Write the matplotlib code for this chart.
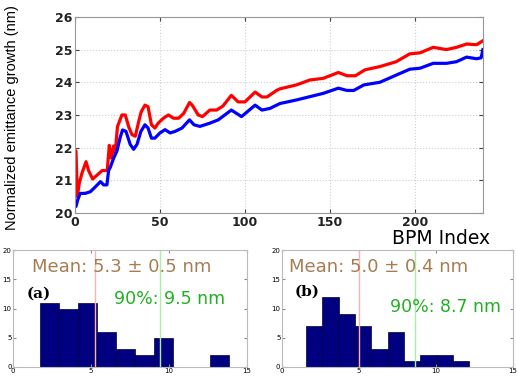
import matplotlib.pyplot as plt
import numpy as np

# main plot: emittance growth vs BPM index
red_x = [0, 0.6, 1.4, 2.5, 4, 6.5, 8, 10.4, 13, 16, 19, 20.2, 21.4, 22.7, 23.7, 25, 27.6, 29.6,
         31.6, 33.5, 35.5, 37.5, 39, 41.2, 43, 45, 47, 49, 52, 55, 58, 61, 64, 67.4, 69, 72.5,
         75, 79.4, 83.3, 87, 92, 96, 100, 106, 110, 113, 118.6, 120.6, 130.4, 138.2, 146, 155,
         160, 165, 170.6, 179.4, 189, 197, 203, 210.8, 218.6, 224.5, 230.4, 236.3, 240]
red_y = [21.9, 21.9, 20.5, 20.9, 21.2, 21.57, 21.3, 21.04, 21.16, 21.3, 21.3, 22.07, 21.68, 22.05,
         21.85, 22.64, 23.0, 23.0, 22.64, 22.4, 22.35, 22.8, 23.1, 23.3, 23.25, 22.7, 22.6, 22.75,
         22.9, 23.0, 22.9, 22.9, 23.05, 23.38, 23.3, 23.0, 22.95, 23.15, 23.15, 23.27, 23.6, 23.4,
         23.4, 23.7, 23.55, 23.55, 23.75, 23.8, 23.92, 24.07, 24.12, 24.3, 24.2, 24.2, 24.38,
         24.48, 24.63, 24.87, 24.9, 25.07, 25.0, 25.07, 25.17, 25.15, 25.27]
blue_x = [0, 0.6, 1.6, 3.1, 6, 9, 12, 15, 16.9, 18.8, 19.8, 20.8, 22.7, 24.7, 26.7, 28, 30, 32.5,
          34.5, 36.5, 38.8, 41.2, 43, 45, 47, 50, 53, 56, 59, 63, 67.4, 70, 73.5, 79.4, 84.3,
          92, 98, 106, 110, 114.7, 120.6, 130.4, 138.2, 146, 155, 160, 164, 170, 179.4, 189,
          197, 203, 210.8, 218.6, 224.5, 230.4, 236.3, 239, 240]
blue_y = [20.2, 20.2, 20.4, 20.6, 20.6, 20.65, 20.8, 20.96, 20.86, 20.86, 21.3, 21.4, 21.67, 21.9,
          22.33, 22.54, 22.5, 22.1, 21.95, 22.1, 22.5, 22.7, 22.6, 22.29, 22.29, 22.45, 22.55,
          22.45, 22.5, 22.6, 22.85, 22.7, 22.65, 22.75, 22.85, 23.15, 22.95, 23.3, 23.15, 23.2,
          23.35, 23.46, 23.56, 23.66, 23.82, 23.75, 23.75, 23.92, 24.0, 24.22, 24.4, 24.43, 24.58,
          24.58, 24.63, 24.77, 24.72, 24.75, 25.0]

# histograms
edges_a = [1.76, 2.97, 4.18, 5.39, 6.6, 7.81, 9.02, 10.23, 11.44, 12.65, 13.86]
counts_a = [11, 10, 11, 6, 3, 2, 5, 0, 0, 2]
edges_b = [1.57, 2.63, 3.69, 4.75, 5.81, 6.87, 7.93, 8.99, 10.05, 11.11, 12.17]
counts_b = [7, 12, 9, 7, 3, 6, 1, 2, 2, 1]
mean_a, p90_a = 5.25, 9.45
mean_b, p90_b = 5.0, 8.65

fig = plt.figure(figsize=(5.17, 3.76), dpi=100)

ax = fig.add_axes([0.145, 0.4335, 0.789, 0.5215])
ax.plot(red_x, red_y, color='#ff0000', lw=2.3)
ax.plot(blue_x, blue_y, color='#0000ff', lw=2.3)
ax.set_xlim(0, 240)
ax.set_ylim(20, 26)
ax.set_xticks([0, 50, 100, 150, 200])
ax.set_yticks([20, 21, 22, 23, 24, 25, 26])
ax.grid(True, color='#d0d0d0', ls=':', lw=0.8)
ax.tick_params(direction='in', top=True, right=True, labelsize=9, length=3, pad=2,
               color='#444444')
for lab in ax.get_xticklabels() + ax.get_yticklabels():
    lab.set_fontweight('bold')
    lab.set_color('#222222')
for s in ax.spines.values():
    s.set_color('#999999')
fig.text(0.024, 1 - 118 / 376, 'Normalized emittance growth (nm)', fontsize=10.5,
         family='Liberation Sans', rotation=90, ha='center', va='center')
fig.text(441 / 517, 1 - 238 / 376, 'BPM Index', fontsize=13.5, family='DejaVu Sans',
         ha='center', va='center')

def hist_panel(rect, edges, counts, mean, p90, mtxt, ptxt, tag, ptx, pty, tagy):
    h = fig.add_axes(rect)
    h.hist(edges[:-1], bins=edges, weights=counts, color='#000080', edgecolor='#000033', lw=0.5)
    h.axvline(mean, color='#ffb0b0', lw=1)
    h.axvline(p90, color='#a8f0a8', lw=1)
    h.set_xlim(0, 15)
    h.set_ylim(0, 20)
    h.set_xticks([0, 5, 10, 15])
    h.set_yticks([0, 5, 10, 15, 20])
    h.tick_params(direction='in', top=True, right=True, labelsize=5, length=2, pad=1,
                  color='#888888')
    for s in h.spines.values():
        s.set_color('#bbbbbb')
    h.text(mtxt[0], 17.1, mtxt[1], color='#a67c52', fontsize=13, family='DejaVu Sans',
           va='center')
    h.text(ptx, pty, ptxt, color='#22b022', fontsize=12.5, family='DejaVu Sans', va='center')
    h.text(0.85, tagy, tag, fontsize=11, family='DejaVu Serif', fontweight='bold', va='center')
    return h

hist_panel([0.025, 0.024, 0.453, 0.311], edges_a, counts_a, mean_a, p90_a,
           (1.2, 'Mean: 5.3 \u00b1 0.5 nm'), '90%: 9.5 nm', '(a)', 6.5, 11.6, 12.6)
hist_panel([0.545, 0.024, 0.447, 0.311], edges_b, counts_b, mean_b, p90_b,
           (0.5, 'Mean: 5.0 \u00b1 0.4 nm'), '90%: 8.7 nm', '(b)', 7.0, 10.3, 12.8)

fig.savefig('out.png', dpi=100)
